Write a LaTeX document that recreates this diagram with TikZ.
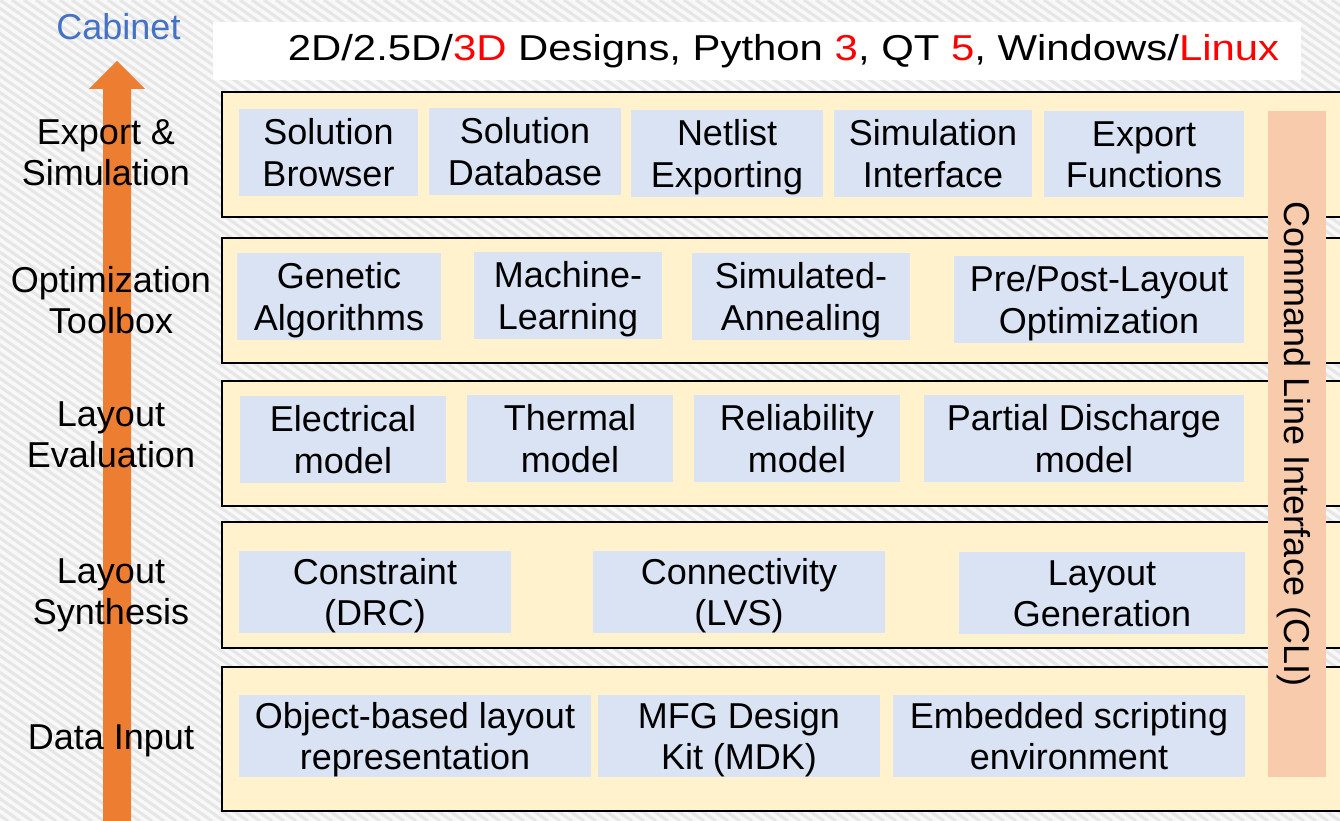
\documentclass[tikz,border=0pt]{standalone}
\usepackage{fontspec}
\setmainfont{Liberation Sans}
\newcommand{\zstrut}{\rule[-7.5pt]{0pt}{41pt}}
\definecolor{layerfill}{HTML}{FFF2CC}
\definecolor{ibfill}{HTML}{DAE3F3}
\definecolor{clifill}{HTML}{F8CBAD}
\definecolor{arroworange}{HTML}{ED7D31}
\definecolor{cabblue}{HTML}{4472C4}
\definecolor{bggray}{HTML}{F8F8F8}
\definecolor{stripegray}{HTML}{E6E6E6}
\tikzset{
  txt/.style={font=\fontsize{36}{41.5}\selectfont, align=center, inner sep=0pt,
    execute at begin node=\zstrut, execute at end node=\zstrut},
  mtxt/.style={font=\fontsize{36}{41.5}\selectfont, align=center, inner sep=0pt,
    text height=74.9pt, text depth=7.6pt},
  layer/.style={draw=black, line width=2pt, fill=layerfill, inner sep=0pt, minimum width=1128pt},
  ibox/.style={mtxt, fill=ibfill},
  lbl/.style={mtxt},
}
\begin{document}
\begin{tikzpicture}[x=1pt,y=-1pt]
\clip (0,0) rectangle (1340,821);
\fill[bggray] (0,0) rectangle (1340,821);
\foreach \i in {-1200,-1188,...,1340} \draw[stripegray, line width=3pt] (\i,0) -- ++(1172,821);

% title
\node[fill=white, minimum width=1088pt, minimum height=58pt, inner sep=0pt] (titlebox) at (757,51) {};
\node[txt] (title) at (783.5,48) {\scalebox{1.163}[1]{2D/2.5D/\textcolor{red}{3D} Designs, Python \textcolor{red}{3}, QT \textcolor{red}{5}, Windows/\textcolor{red}{Linux}}};

% arrow
\fill[arroworange] (103,830) -- (103,89) -- (89,89) -- (117,61) -- (145,89) -- (131,89) -- (131,830) -- cycle;
\node[txt, text=cabblue] (cab) at (118.5,26.5) {Cabinet};

% layers
\node[layer, minimum height=125pt] (L1) at (786,154.5) {};
\node[layer, minimum height=125pt] (L2) at (786,300.5) {};
\node[layer, minimum height=125pt] (L3) at (786,443.5) {};
\node[layer, minimum height=126pt] (L4) at (786,585) {};
\node[layer, minimum height=144pt] (L5) at (786,739) {};

% left labels
\node[lbl] (l1) at (106,152) {Export \&\\Simulation};
\node[lbl] (l2) at (111,300) {Optimization\\Toolbox};
\node[lbl] (l3) at (111,434) {Layout\\Evaluation};
\node[lbl] (l4) at (111,591) {Layout\\Synthesis};
\node[txt] (l5) at (111,736.5) {Data Input};

% layer 1
\node[ibox, minimum width=179pt, minimum height=87pt] (sb) at (328.5,152.5) {Solution\\Browser};
\node[ibox, minimum width=192pt, minimum height=87pt] (sd) at (525,151.5) {Solution\\Database};
\node[ibox, minimum width=192pt, minimum height=87pt] (ne) at (727,153.5) {Netlist\\Exporting};
\node[ibox, minimum width=198pt, minimum height=87pt] (si) at (933,153.5) {Simulation\\Interface};
\node[ibox, minimum width=200pt, minimum height=86pt] (ef) at (1144,154) {Export\\Functions};

% layer 2
\node[ibox, minimum width=204pt, minimum height=87pt] (ga) at (339,296.5) {Genetic\\Algorithms};
\node[ibox, minimum width=188pt, minimum height=87pt] (ml) at (568,295.5) {Machine-\\Learning};
\node[ibox, minimum width=218pt, minimum height=87pt] (sa) at (801,296.5) {Simulated-\\Annealing};
\node[ibox, minimum width=290pt, minimum height=87pt] (pp) at (1099,299.5) {Pre/Post-Layout\\Optimization};

% layer 3
\node[ibox, minimum width=206pt, minimum height=87pt] (em) at (343,439.5) {Electrical\\model};
\node[ibox, minimum width=206pt, minimum height=87pt] (tm) at (570,438.5) {Thermal\\model};
\node[ibox, minimum width=206pt, minimum height=87pt] (rm) at (797,438.5) {Reliability\\model};
\node[ibox, minimum width=320pt, minimum height=87pt] (pd) at (1084,438.5) {Partial Discharge\\model};

% layer 4
\node[ibox, minimum width=272pt, minimum height=80pt] (cd) at (375,592) {Constraint\\(DRC)};
\node[ibox, minimum width=292pt, minimum height=80pt] (cl) at (739,592) {Connectivity\\(LVS)};
\node[ibox, minimum width=286pt, minimum height=80pt] (lg) at (1102,593) {Layout\\Generation};

% layer 5
\node[ibox, minimum width=352pt, minimum height=80pt] (ob) at (415,736) {Object-based layout\\representation};
\node[ibox, minimum width=282pt, minimum height=80pt] (mfg) at (739,736) {MFG Design\\Kit (MDK)};
\node[ibox, minimum width=352pt, minimum height=80pt] (es) at (1069,736) {Embedded scripting\\environment};

% CLI
\node[txt, fill=clifill, rotate=-90, minimum width=666pt, minimum height=58pt] (cli) at (1297,444) {Command Line Interface (CLI)};
\end{tikzpicture}
\end{document}
